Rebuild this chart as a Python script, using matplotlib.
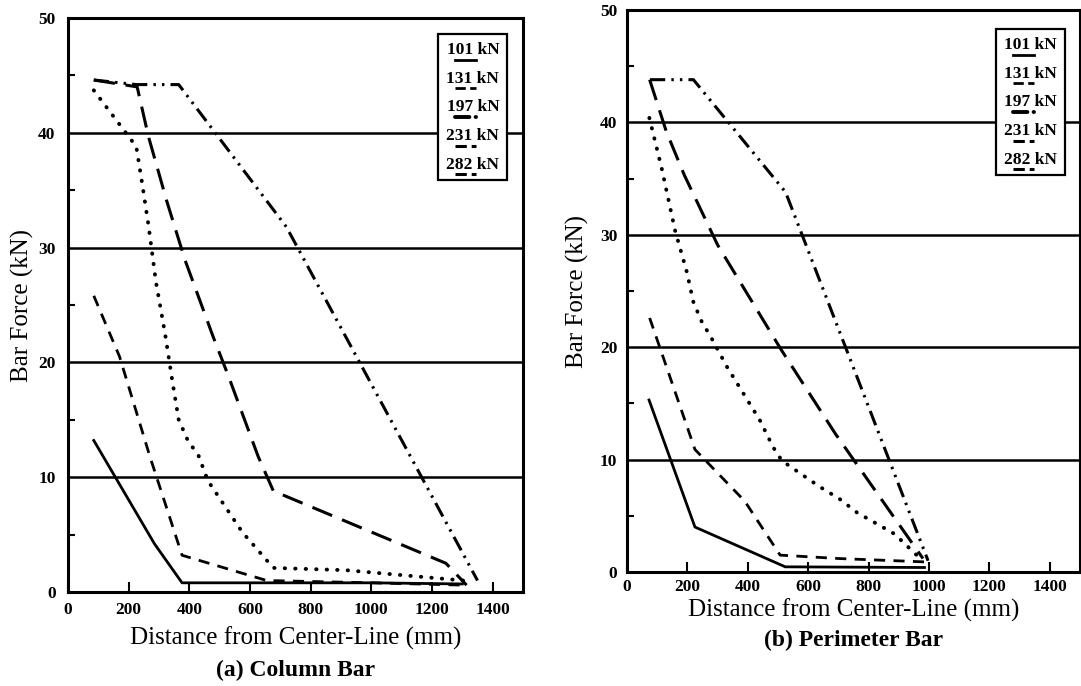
import matplotlib
matplotlib.use("Agg")
import matplotlib.pyplot as plt
from matplotlib.lines import Line2D
from matplotlib.legend_handler import HandlerBase
from matplotlib.ticker import MultipleLocator

plt.rcParams['font.family'] = ['Liberation Serif', 'DejaVu Serif']

# ---------------- data ----------------
labels = ["101 kN", "131 kN", "197 kN", "231 kN", "282 kN"]

# (a) Column Bar
a101_x = [85, 285, 376, 700, 1000, 1300]
a101_y = [13.2, 4.2, 0.8, 0.8, 0.8, 0.7]
a131_x = [85, 170, 270, 376, 655, 1000, 1303]
a131_y = [25.8, 20.5, 11.8, 3.2, 1.0, 0.8, 0.6]
a197_x = [85, 225, 245, 265, 290, 320, 345, 365, 395, 430, 461, 575, 677, 916, 1303]
a197_y = [43.7, 38.8, 35.5, 32.0, 27.0, 22.5, 18.2, 15.0, 13.2, 11.9, 9.7, 5.2, 2.1, 1.9, 1.0]
a231_x = [85, 228, 265, 325, 386, 479, 529, 627, 677, 1246, 1314]
a231_y = [44.6, 44.0, 39.7, 34.1, 28.9, 22.2, 18.8, 11.8, 8.8, 2.5, 0.6]
a282_x = [85, 225, 365, 720, 1350]
a282_y = [44.6, 44.2, 44.2, 31.8, 1.0]

# (b) Perimeter Bar
b101_x = [73, 225, 524, 985]
b101_y = [15.3, 4.0, 0.46, 0.4]
b131_x = [75, 225, 390, 507, 700, 985]
b131_y = [22.6, 10.9, 6.3, 1.5, 1.2, 0.9]
b197_x = [74, 115, 159, 198, 220, 247, 280, 330, 385, 440, 484, 513, 637, 704, 761, 885, 975]
b197_y = [40.4, 35.9, 30.4, 26.7, 24.0, 22.3, 20.8, 18.3, 15.9, 13.5, 11.1, 9.9, 7.6, 6.5, 5.3, 3.4, 1.1]
b231_x = [75, 130, 190, 300, 510, 690, 980]
b231_y = [43.8, 39.2, 35.3, 29.1, 19.8, 12.3, 1.2]
b282_x = [76, 220, 525, 997]
b282_y = [43.8, 43.8, 33.8, 1.0]

xticks = [0, 200, 400, 600, 800, 1000, 1200, 1400]
yticks = [0, 10, 20, 30, 40, 50]

styles = [
    dict(linestyle='-', lw=2.0),
    dict(linestyle=(0, (4, 3)), lw=2.0),
    dict(linestyle=(0, (0.1, 2.6)), lw=2.8, dash_capstyle='round'),
    dict(linestyle=(0, (7, 3.5)), lw=2.2),
    dict(linestyle=(0, (5, 2, 0.8, 2, 0.8, 2)), lw=2.2),
]


class HandlerUnder(HandlerBase):
    """Draw the legend sample as a short line underneath the label text."""
    def create_artists(self, legend, orig_handle, xdescent, ydescent,
                       width, height, fontsize, trans):
        x0 = -2.55 * fontsize
        x1 = -1.35 * fontsize
        y = -0.32 * fontsize
        ln = Line2D([x0, x1], [y, y], color='black',
                    linestyle=orig_handle.get_linestyle(),
                    lw=orig_handle.get_linewidth(),
                    dash_capstyle=orig_handle.get_dash_capstyle())
        ln.set_transform(trans)
        return [ln]


fig = plt.figure(figsize=(10.81, 6.86), dpi=100)
W, H = 1081.0, 686.0

panels = [
    dict(rect=[68 / W, (H - 592) / H, 455 / W, 574 / H],
         xs=[a101_x, a131_x, a197_x, a231_x, a282_x],
         ys=[a101_y, a131_y, a197_y, a231_y, a282_y],
         cap="(a) Column Bar", tickpad=7, ylab_off=46,
         xl_off=46, cap_off=78, leg=(0.965, 0.972)),
    dict(rect=[627 / W, (H - 572) / H, 453 / W, 562 / H],
         xs=[b101_x, b131_x, b197_x, b231_x, b282_x],
         ys=[b101_y, b131_y, b197_y, b231_y, b282_y],
         cap="(b) Perimeter Bar", tickpad=5, ylab_off=50,
         xl_off=38, cap_off=68, leg=(0.967, 0.966)),
]

for p in panels:
    ax = fig.add_axes(p['rect'])
    handles = []
    for xs, ys, st, lab in zip(p['xs'], p['ys'], styles, labels):
        h, = ax.plot(xs, ys, color='black', label=lab, **st)
        handles.append(h)
    ax.set_xlim(0, 1500)
    ax.set_ylim(0, 50)
    ax.set_xticks(xticks)
    ax.set_yticks(yticks)
    ax.yaxis.set_minor_locator(MultipleLocator(5))
    for y in [10, 20, 30, 40]:
        ax.axhline(y, color='black', lw=1.8, zorder=1)
    ax.tick_params(axis='x', which='major', direction='in', length=7, width=1.5,
                   pad=p['tickpad'], labelsize=12.5)
    ax.tick_params(axis='y', which='major', direction='in', length=0,
                   pad=p['tickpad'] + 2, labelsize=12.5)
    ax.tick_params(axis='y', which='minor', direction='in', length=5, width=1.5)
    for lab in ax.get_xticklabels() + ax.get_yticklabels():
        lab.set_fontweight('bold')
    for s in ax.spines.values():
        s.set_linewidth(2.2)
    ax.annotate("Bar Force (kN)", xy=(0, 0.5), xycoords='axes fraction',
                xytext=(-p['ylab_off'] * 0.72, 0), textcoords='offset points',
                rotation=90, ha='center', va='center', fontsize=18)
    ax.annotate("Distance from Center-Line (mm)", xy=(0.5, 0), xycoords='axes fraction',
                xytext=(0, -p['xl_off'] * 0.72), textcoords='offset points',
                ha='center', va='center', fontsize=18)
    ax.annotate(p['cap'], xy=(0.5, 0), xycoords='axes fraction',
                xytext=(0, -p['cap_off'] * 0.72), textcoords='offset points',
                ha='center', va='center', fontsize=17, fontweight='bold')
    leg = ax.legend(handles=handles, loc='upper right', bbox_to_anchor=p['leg'],
                    handler_map={Line2D: HandlerUnder()},
                    markerfirst=False, handlelength=0.0, handletextpad=0.0,
                    labelspacing=0.72, borderpad=0.45, borderaxespad=0.0,
                    fancybox=False, framealpha=1.0, edgecolor='black',
                    prop={'family': 'Liberation Serif', 'weight': 'bold', 'size': 12.5})
    leg.get_frame().set_linewidth(1.6)

fig.savefig("out.png", dpi=100)
